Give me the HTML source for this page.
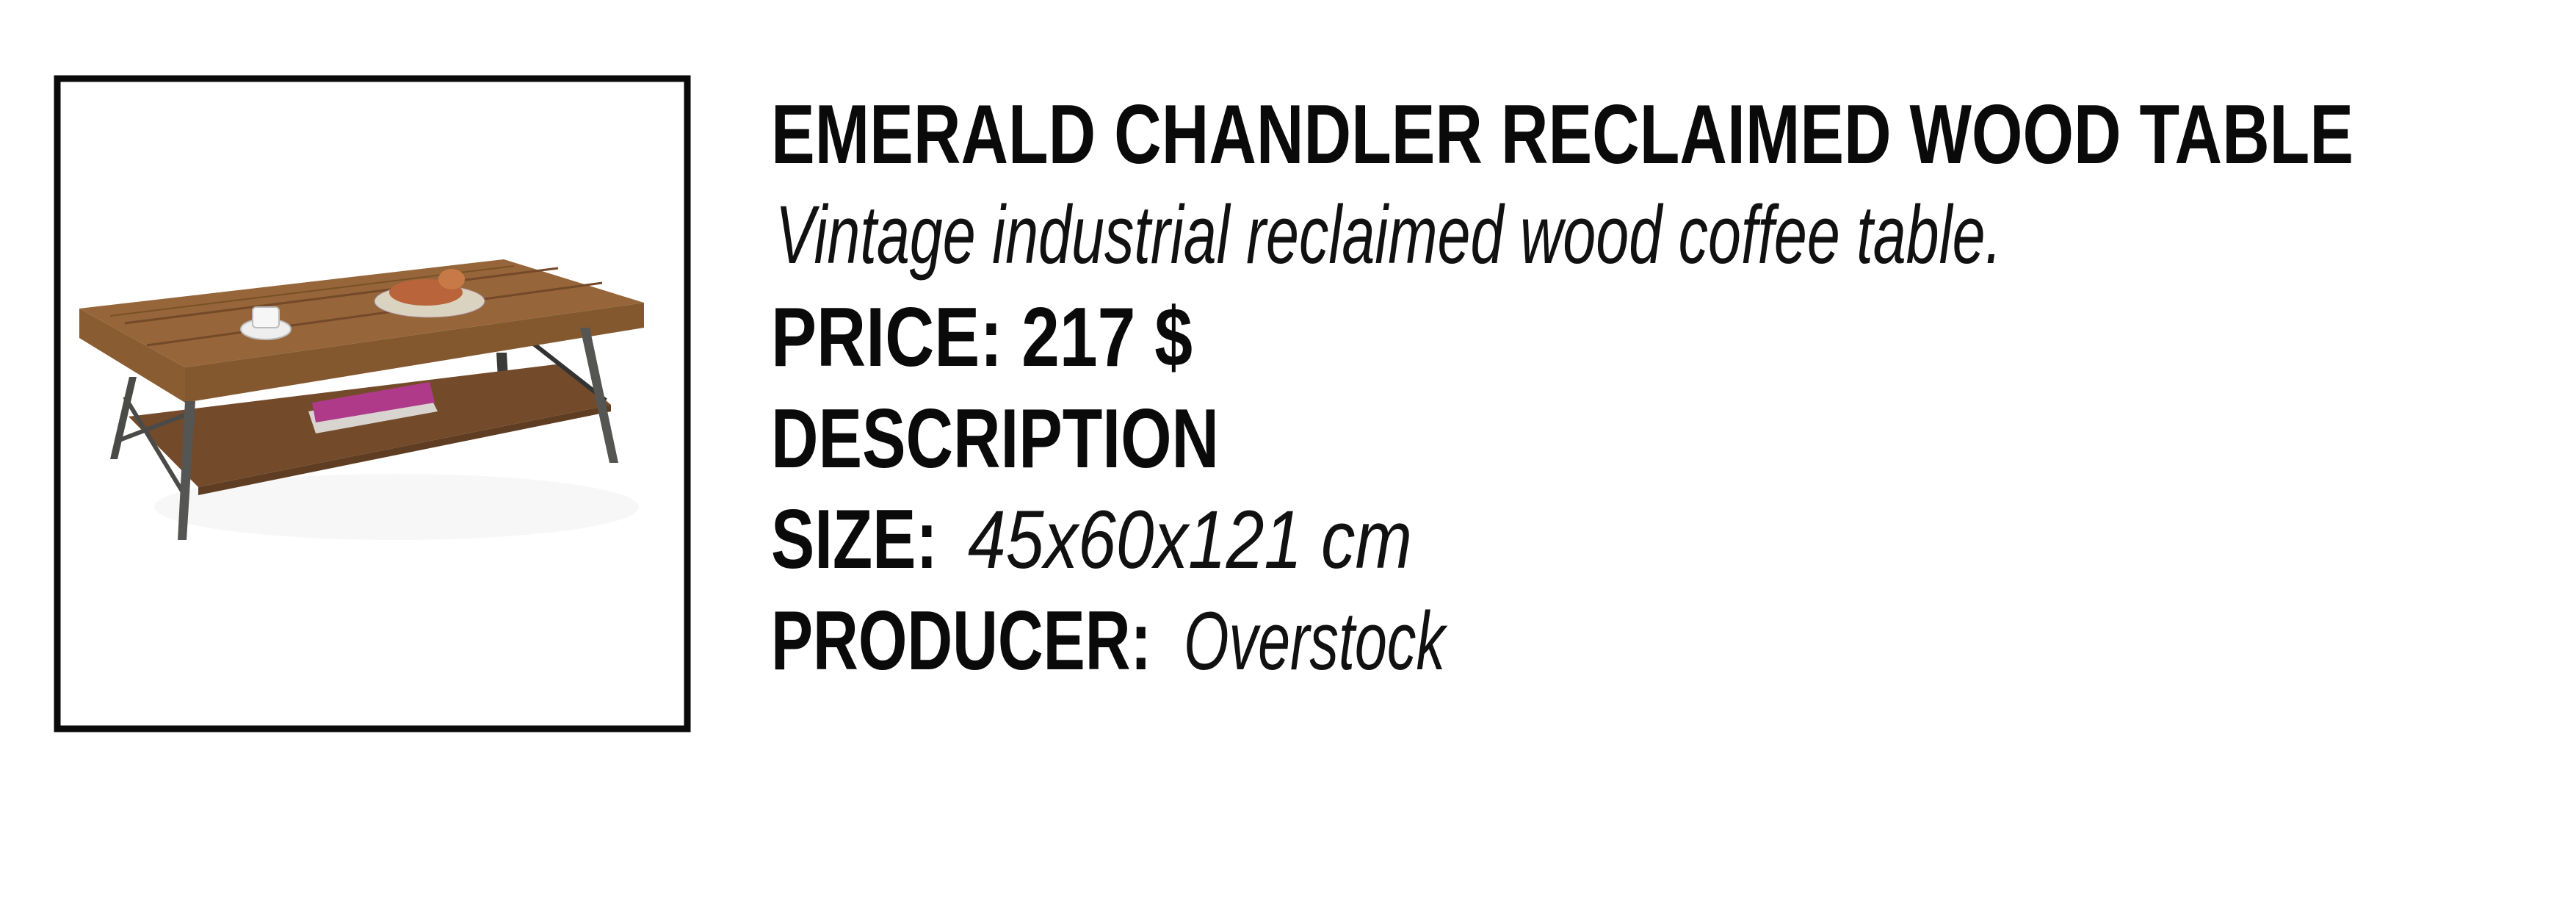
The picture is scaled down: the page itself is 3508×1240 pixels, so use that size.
<!DOCTYPE html>
<html><head><meta charset="utf-8">
<style>
html,body{margin:0;padding:0;background:#fff;}
body{width:3508px;height:1240px;position:relative;overflow:hidden;}
svg{position:absolute;left:0;top:0;}
.b{font-family:"Liberation Sans Narrow","Liberation Sans",sans-serif;font-weight:bold;font-size:114px;fill:#0a0a0a;}
.i{font-family:"Liberation Sans Narrow","Liberation Sans",sans-serif;font-style:italic;font-weight:normal;font-size:112px;fill:#111;}
</style></head>
<body>
<svg width="3508" height="1240" viewBox="0 0 3508 1240">
  <rect x="78" y="107" width="858" height="885" fill="#fff" stroke="#0a0a0a" stroke-width="9"/>
  <g>
    <ellipse cx="540" cy="690" rx="330" ry="45" fill="#f7f7f7"/>
    <!-- back legs -->
    <polygon points="176,513 186,513 160,625 150,625" fill="#4a4a48"/>
    <polygon points="676,480 690,480 692,515 678,515" fill="#3a3a38"/>
    <!-- shelf -->
    <polygon points="175,567 765,495 832,551 270,663" fill="#744b2a"/>
    <polygon points="270,663 832,551 832,560 270,674" fill="#5e3d22"/>
    <!-- books -->
    <polygon points="420,560 580,528 596,560 430,590" fill="#d8d4d0"/>
    <polygon points="425,548 585,520 592,548 430,575" fill="#b03a8a"/>
    <!-- braces -->
    <line x1="170" y1="540" x2="255" y2="680" stroke="#4a4a48" stroke-width="6"/>
    <line x1="160" y1="600" x2="265" y2="560" stroke="#4a4a48" stroke-width="6"/>
    <line x1="690" y1="470" x2="800" y2="445" stroke="#333" stroke-width="7"/>
    <line x1="710" y1="455" x2="825" y2="545" stroke="#333" stroke-width="6"/>
    <!-- top -->
    <polygon points="108,420 686,353 877,412 252,500" fill="#96663a"/>
    <polygon points="108,420 252,500 252,548 108,460" fill="#8a5c32"/>
    <polygon points="252,500 877,412 877,446 252,548" fill="#84582f"/>
    <line x1="170" y1="440" x2="760" y2="365" stroke="#74492a" stroke-width="3"/>
    <line x1="200" y1="470" x2="820" y2="385" stroke="#74492a" stroke-width="3"/>
    <line x1="150" y1="430" x2="700" y2="362" stroke="#7a5028" stroke-width="2"/>
    <!-- front legs -->
    <polygon points="252,546 266,546 254,735 242,735" fill="#555553"/>
    <polygon points="790,446 803,446 842,630 830,630" fill="#555553"/>
    <!-- cup & plate -->
    <ellipse cx="362" cy="448" rx="34" ry="14" fill="#eee" stroke="#bbb" stroke-width="2"/>
    <rect x="344" y="418" width="36" height="28" rx="5" fill="#f6f6f6" stroke="#bbb" stroke-width="2"/>
    <ellipse cx="585" cy="410" rx="75" ry="22" fill="#d9d3c0" stroke="#a89"/>
    <ellipse cx="580" cy="398" rx="50" ry="18" fill="#b9643a"/>
    <ellipse cx="615" cy="380" rx="18" ry="14" fill="#c77a45"/>
  </g>
  <text class="b" x="1050" y="222" textLength="2155" lengthAdjust="spacingAndGlyphs">EMERALD CHANDLER RECLAIMED WOOD TABLE</text>
  <text class="i" x="1056" y="358" textLength="1670" lengthAdjust="spacingAndGlyphs">Vintage industrial reclaimed wood coffee table.</text>
  <text class="b" x="1050" y="498" textLength="574" lengthAdjust="spacingAndGlyphs">PRICE: 217 $</text>
  <text class="b" x="1050" y="636" textLength="610" lengthAdjust="spacingAndGlyphs">DESCRIPTION</text>
  <text class="b" x="1050" y="773" textLength="227" lengthAdjust="spacingAndGlyphs">SIZE:</text>
  <text class="i" x="1318" y="773" textLength="605" lengthAdjust="spacingAndGlyphs">45x60x121 cm</text>
  <text class="b" x="1050" y="911" textLength="518" lengthAdjust="spacingAndGlyphs">PRODUCER:</text>
  <text class="i" x="1612" y="911" textLength="356" lengthAdjust="spacingAndGlyphs">Overstock</text>
</svg>
</body></html>
